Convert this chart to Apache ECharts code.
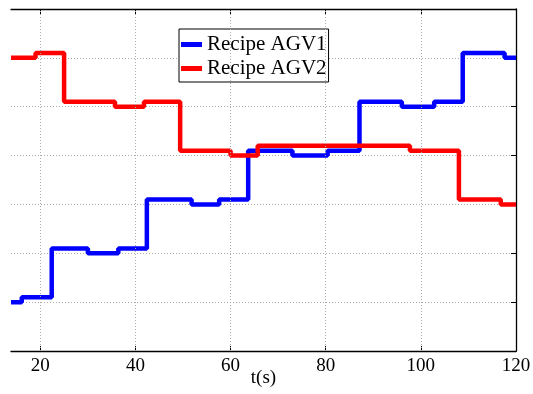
<!DOCTYPE html>
<html><head><meta charset="utf-8">
<script src="https://cdn.jsdelivr.net/npm/echarts@6/dist/echarts.min.js"></script>
<style>html,body{margin:0;padding:0;background:#fff}#c{width:533px;height:394px}#note{position:absolute;left:0;top:0;font:1px sans-serif;color:#fff}</style>
</head><body><div id="c"></div><div id="note"></div>
<script>
const xTicks = [20, 40, 60, 80, 100, 120];
const agv1T = [13.84, 16.1, 22.4, 30.0, 36.4, 42.4, 51.8, 57.6, 63.7, 73.0, 80.4, 87.1, 96.0, 102.8, 108.8, 117.6, 120];
const agv1V = [1.0, 1.1, 2.1, 2.0, 2.1, 3.1, 3.0, 3.1, 4.1, 4.0, 4.1, 5.1, 5.0, 5.1, 6.1, 6.0, 6.0];
const agv2T = [13.84, 19.0, 25.0, 35.7, 41.8, 49.4, 60.0, 65.7, 97.7, 108.0, 116.8, 120];
const agv2V = [6.0, 6.1, 5.1, 5.0, 5.1, 4.1, 4.0, 4.2, 4.1, 3.1, 3.0, 3.0];

const font = 'Liberation Serif';
const chart = echarts.init(document.getElementById('c'));
const dotted = {color: '#aaa', type: [1, 2], width: 1};
chart.setOption({
  animation: false,
  grid: {left: 11, right: 17, top: 9, bottom: 43, outerBoundsMode: 'none'},
  legend: {
    left: 179, top: 29, orient: 'vertical',
    backgroundColor: '#fff', borderColor: '#000', borderWidth: 1,
    padding: [5, 2, 3, 2], itemGap: 3, itemWidth: 21, itemHeight: 5,
    icon: 'rect',
    textStyle: {fontFamily: font, fontSize: 21, color: '#000'},
    data: ['Recipe AGV1', 'Recipe AGV2']
  },
  xAxis: [{
    type: 'value', min: 13.84, max: 120, position: 'bottom',
    name: 't(s)', nameLocation: 'middle', nameGap: 18, nameMoveOverlap: false,
    nameTextStyle: {fontFamily: font, fontSize: 19, color: '#000'},
    axisLine: {show: true, onZero: false, lineStyle: {color: '#000', width: 1.3}},
    axisTick: {show: true, inside: true, length: 5, customValues: xTicks, lineStyle: {color: '#000'}},
    axisLabel: {customValues: xTicks, fontFamily: font, fontSize: 19, color: '#000', margin: 6},
    splitLine: {show: false}
  }, {
    type: 'value', min: 13.84, max: 120, position: 'top',
    axisLine: {show: true, onZero: false, lineStyle: {color: '#000', width: 1.3}},
    axisTick: {show: true, inside: true, length: 5, customValues: xTicks, lineStyle: {color: '#000'}},
    axisLabel: {show: false},
    splitLine: {show: false}
  }],
  yAxis: [{
    type: 'value', min: 0, max: 7, interval: 1,
    axisLine: {show: false}, axisTick: {show: false}, axisLabel: {show: false},
    splitLine: {show: true, lineStyle: dotted}
  }, {
    type: 'value', min: 0, max: 7, interval: 1, position: 'right',
    axisLine: {show: true, onZero: false, lineStyle: {color: '#000', width: 1.3}},
    axisTick: {show: true, inside: true, length: 5, lineStyle: {color: '#000'}},
    axisLabel: {show: false}, splitLine: {show: false}
  }],
  series: [{
    name: 'Recipe AGV1', type: 'line', step: 'end', symbol: 'none',
    xAxisIndex: 0, yAxisIndex: 0,
    data: agv1T.map((t, i) => [t, agv1V[i]]),
    lineStyle: {color: '#0000ff', width: 4.5}, itemStyle: {color: '#0000ff'},
    markLine: {
      silent: true, symbol: 'none', label: {show: false},
      lineStyle: dotted,
      data: xTicks.slice(0, -1).map(v => ({xAxis: v}))
    }
  }, {
    name: 'Recipe AGV2', type: 'line', step: 'end', symbol: 'none',
    xAxisIndex: 1, yAxisIndex: 1,
    data: agv2T.map((t, i) => [t, agv2V[i]]),
    lineStyle: {color: '#ff0000', width: 4.5}, itemStyle: {color: '#ff0000'}
  }]
});
const zr = chart.getZr();
zr.storage.getDisplayList(true);
zr.refreshImmediately();
setTimeout(() => {
  zr.storage.getDisplayList(true);
  zr.refreshImmediately();
  document.getElementById('note').textContent = ' ';
}, 300);
</script></body></html>
